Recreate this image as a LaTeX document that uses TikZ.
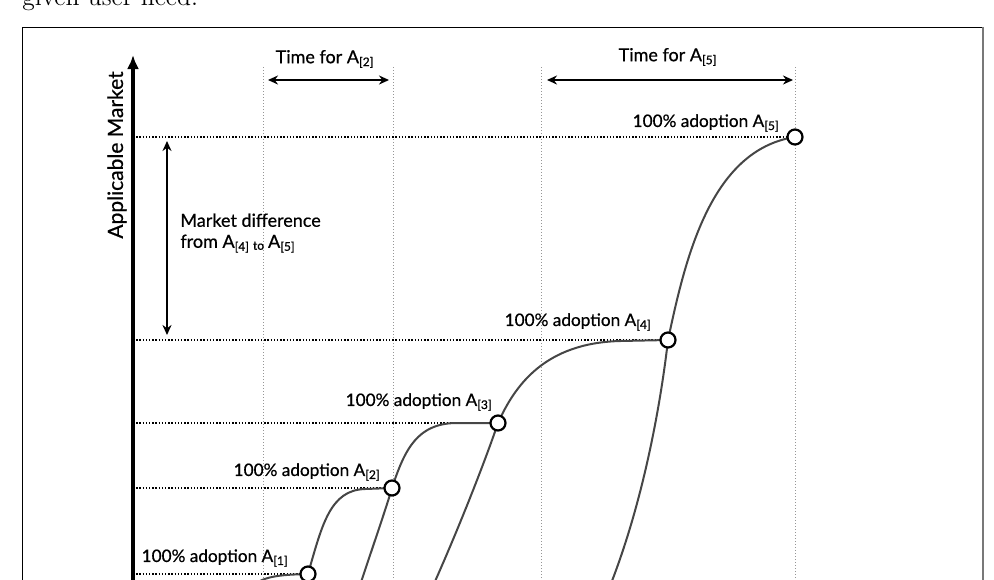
\documentclass[tikz,border=0pt]{standalone}
\usepackage{fontspec}
\newfontfamily\figfont{Lato}[UprightFeatures={FakeBold=0.6}]
\usepackage{xcolor}
\definecolor{curvegray}{RGB}{70, 70, 70}
\definecolor{gridgray}{RGB}{150, 150, 150}
\definecolor{framegray}{RGB}{120, 120, 120}
\usepackage{tikz}
\usetikzlibrary{arrows.meta}
\newcommand{\Aidx}[1]{A\textsubscript{[#1]}}

\tikzset{
  curve/.style={draw=curvegray, line width=1pt},
  marker/.style={circle, draw=black, fill=white, line width=1.1pt, minimum size=7.5pt, inner sep=0pt},
  hdots/.style={black, line width=0.6pt, dash pattern=on 0.7pt off 0.9pt},
  vdots/.style={gridgray, line width=0.5pt, dash pattern=on 0.5pt off 1pt},
  span/.style={black, line width=1pt, {Stealth[length=5pt,width=4.5pt]}-{Stealth[length=5pt,width=4.5pt]}},
  lbl/.style={font=\figfont\fontsize{9}{10.5}\selectfont, inner sep=0pt},
  adopt/.style={font=\figfont\fontsize{8.6}{10}\selectfont, inner sep=0pt, anchor=east},
  axislbl/.style={font=\figfont\fontsize{10.5}{12}\selectfont, inner sep=0pt}
}

\begin{document}
\begin{tikzpicture}[x=0.5pt, y=-0.5pt]
  \useasboundingbox (0,0) rectangle (994,579);
  \clip (0,0) rectangle (994,579);

  % running text cut by the page
  \node[anchor=base west, inner sep=0pt, font=\fontsize{12.8}{14}\selectfont] (bodytext) at (22,5) {given user need.};

  % frame
  \draw[black, line width=0.5pt] (22,600) |- (983,27);
  \draw[framegray, line width=1pt] (983,27) -- (983,600);

  % adoption points
  \coordinate (p1) at (308,574);
  \coordinate (p2) at (392,488);
  \coordinate (p3) at (498,423);
  \coordinate (p4) at (668,340);
  \coordinate (p5) at (795,137);
  \coordinate (origin) at (133,600);
  \coordinate (ytop) at (133,55);

  % time grid
  \foreach \x in {263,393,541,795}
    \draw[vdots] (\x,67) -- (\x,600);

  % levels
  \foreach \p in {p1,p2,p3,p4,p5}
    \draw[hdots] (\p -| origin) -- (\p);

  % axis
  \draw[line width=2pt, -{Latex[length=7pt,width=6pt]}] (origin) -- (ytop);
  \node[axislbl, rotate=90] (ylabel) at (117,155) {Applicable Market};

  % adoption curves
  \draw[curve] (240,600) .. controls (255,577) and (270,575) .. (p1);
  \draw[curve] (298,610) -- (p1) .. controls (322,525) and (330,490) .. (365,489) -- (p2);
  \draw[curve] (352,610) .. controls (368,560) and (384,515) .. (p2)
    .. controls (405,448) and (418,424) .. (455,423) -- (p3);
  \draw[curve] (422,610) .. controls (450,550) and (482,470) .. (p3)
    .. controls (515,385) and (545,343) .. (620,341) -- (p4);
  \draw[curve] (600,610) .. controls (640,520) and (660,410) .. (p4)
    .. controls (685,260) and (710,150) .. (p5);

  \foreach \i in {1,...,5}
    \node[marker] (a\i) at (p\i) {};

  \node[adopt] (l1) at (289,558) {100\% adoption \Aidx{1}};
  \node[adopt] (l2) at (381,472) {100\% adoption \Aidx{2}};
  \node[adopt] (l3) at (493,402) {100\% adoption \Aidx{3}};
  \node[adopt] (l4) at (652,322) {100\% adoption \Aidx{4}};
  \node[adopt] (l5) at (780,123) {100\% adoption \Aidx{5}};

  % durations
  \coordinate (t2a) at (268,80);
  \coordinate (t2b) at (389,80);
  \coordinate (t5a) at (547,80);
  \coordinate (t5b) at (793,80);
  \draw[span] (t2a) -- (t2b);
  \draw[span] (t5a) -- (t5b);
  \node[lbl] (time2) at (325,59) {Time for \Aidx{2}};
  \node[lbl] (time5) at (668,57) {Time for \Aidx{5}};

  % market gap
  \coordinate (m4) at (167,335);
  \coordinate (m5) at (167,141);
  \draw[span] (m4) -- (m5);
  \node[lbl, anchor=west, align=left] (mdiff) at (180,233)
    {Market difference\\from \Aidx{4}\,\textsubscript{to}\,\Aidx{5}};
\end{tikzpicture}
\end{document}
